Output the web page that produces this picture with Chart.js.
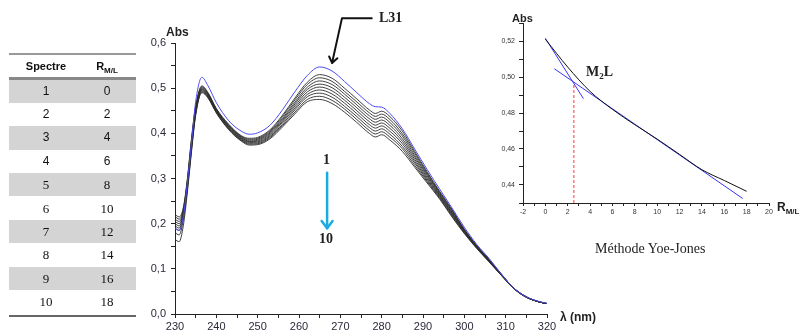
<!DOCTYPE html>
<html>
<head>
<meta charset="utf-8">
<script src="https://cdn.jsdelivr.net/npm/chart.js@4.4.1/dist/chart.umd.min.js"></script>
<style>
    body { margin: 0; background: #fff; }
    #page { position: relative; width: 799px; height: 333px; overflow: hidden; background: #fff;
            font-family: "Liberation Sans", Arial, sans-serif; color: #222; }
    #tableau { position: absolute; left: 0; top: 0; width: 140px; height: 333px; will-change: transform; color: #111; }
    .txt { position: absolute; white-space: nowrap; }
    .serif { font-family: "Liberation Serif", "Times New Roman", serif; }
    .gras { font-weight: bold; }
    #grapheSpectres { position: absolute; left: 130px; top: 0; }
    #grapheYoe { position: absolute; left: 480px; top: 0; }
    .ligne { position: absolute; left: 9px; width: 127px; }
    .rangee { position: absolute; left: 9px; width: 127px; height: 23.4px; line-height: 23.4px; }
    .col1 { position: absolute; left: 0; width: 74px; text-align: center; }
    .col2 { position: absolute; left: 74px; width: 48px; text-align: center; }
    sub { font-size: 8px; vertical-align: -3px; line-height: 0; }
</style>
</head>
<body>
<div id="page">
    <!-- tableau des spectres -->
    <div id="tableau"></div>

    <canvas id="grapheSpectres" width="440" height="333"></canvas>
    <canvas id="grapheYoe" width="319" height="230"></canvas>

    <!-- textes du graphe principal -->
    <div class="txt gras" style="left:166px; top:25px; font-size:12px; line-height:14px;">Abs</div>
    <div class="txt gras" style="left:560px; top:309px; font-size:12px; line-height:16px;">λ (nm)</div>
    <div class="txt serif gras" style="left:379px; top:9px; font-size:14px; line-height:18px;">L31</div>
    <div class="txt serif gras" style="left:323px; top:151px; font-size:14px; line-height:18px;">1</div>
    <div class="txt serif gras" style="left:319px; top:230px; font-size:14px; line-height:18px;">10</div>

    <!-- textes du graphe Yoe-Jones -->
    <div class="txt gras" style="left:512px; top:11px; font-size:11px; line-height:14px;">Abs</div>
    <div class="txt gras" style="left:777px; top:200px; font-size:12px; line-height:15px;">R<sub>M/L</sub></div>
    <div class="txt serif gras" style="left:586px; top:63px; font-size:14px; line-height:18px;">M<sub style="font-size:9px;">2</sub>L</div>
    <div class="txt serif" style="left:595px; top:240px; font-size:14px; line-height:17px;">Méthode Yoe-Jones</div>
</div>

<script>
// ---- tableau ----
const numerosSpectre = [1, 2, 3, 4, 5, 6, 7, 8, 9, 10];
const rapportsML = [0, 2, 4, 6, 8, 10, 12, 14, 16, 18];

// ---- spectres UV (Abs en fonction de lambda) ----
const lambdas = [230, 231, 232, 233, 234, 235, 236.5, 238, 240, 243, 246, 248, 250, 253, 256, 259, 262, 265, 268, 271,
                 274, 277, 278.5, 280, 282, 285, 288, 291, 294, 297, 300, 303, 306, 309, 312, 315, 318, 320];

const spectre1 = [0.19, 0.185, 0.215, 0.29, 0.38, 0.47, 0.524, 0.505, 0.468, 0.428, 0.405, 0.398, 0.401, 0.418, 0.452, 0.492, 0.528, 0.547, 0.538, 0.515,
                  0.49, 0.466, 0.459, 0.458, 0.444, 0.41, 0.365, 0.32, 0.277, 0.235, 0.192, 0.154, 0.123, 0.088, 0.057, 0.038, 0.028, 0.024];
const spectre2 = [0.22, 0.215, 0.235, 0.30, 0.39, 0.46, 0.505, 0.49, 0.455, 0.42, 0.395, 0.389, 0.391, 0.408, 0.44, 0.478, 0.513, 0.53, 0.522, 0.50,
                  0.476, 0.452, 0.444, 0.449, 0.437, 0.405, 0.36, 0.315, 0.272, 0.232, 0.188, 0.152, 0.121, 0.088, 0.057, 0.038, 0.027, 0.023];
const spectre3 = [0.216, 0.21, 0.232, 0.297, 0.386, 0.457, 0.503, 0.4885, 0.454, 0.4185, 0.3935, 0.387, 0.389, 0.4055, 0.437, 0.474, 0.508, 0.523, 0.515, 0.493,
                  0.4695, 0.4455, 0.4375, 0.4425, 0.4305, 0.399, 0.356, 0.312, 0.27, 0.23, 0.187, 0.151, 0.12, 0.0875, 0.057, 0.038, 0.027, 0.023];
const spectre4 = [0.21, 0.205, 0.228, 0.294, 0.382, 0.455, 0.501, 0.487, 0.4525, 0.417, 0.392, 0.385, 0.387, 0.403, 0.433, 0.469, 0.502, 0.516, 0.508, 0.487,
                  0.463, 0.439, 0.431, 0.436, 0.424, 0.394, 0.351, 0.309, 0.268, 0.228, 0.1855, 0.15, 0.1195, 0.087, 0.057, 0.038, 0.027, 0.023];
const spectre5 = [0.205, 0.20, 0.225, 0.291, 0.378, 0.452, 0.499, 0.4855, 0.451, 0.4155, 0.3905, 0.383, 0.385, 0.4005, 0.43, 0.465, 0.497, 0.509, 0.501, 0.48,
                  0.4565, 0.4325, 0.4245, 0.4295, 0.4175, 0.388, 0.347, 0.306, 0.2655, 0.2255, 0.1845, 0.149, 0.119, 0.0865, 0.057, 0.038, 0.027, 0.023];
const spectre6 = [0.20, 0.195, 0.222, 0.288, 0.375, 0.45, 0.4975, 0.484, 0.45, 0.414, 0.389, 0.3815, 0.383, 0.398, 0.427, 0.4605, 0.4915, 0.5025, 0.494, 0.4735,
                  0.45, 0.426, 0.418, 0.423, 0.411, 0.3825, 0.3425, 0.3025, 0.2635, 0.2235, 0.183, 0.1485, 0.118, 0.0865, 0.0565, 0.0375, 0.027, 0.023];
const spectre7 = [0.195, 0.19, 0.218, 0.285, 0.372, 0.447, 0.496, 0.4825, 0.449, 0.4125, 0.3875, 0.38, 0.381, 0.3955, 0.424, 0.456, 0.486, 0.496, 0.487, 0.467,
                  0.4435, 0.4195, 0.4115, 0.4165, 0.4045, 0.377, 0.338, 0.299, 0.2615, 0.2215, 0.182, 0.148, 0.117, 0.086, 0.0565, 0.0375, 0.027, 0.023];
const spectre8 = [0.19, 0.185, 0.215, 0.282, 0.368, 0.445, 0.494, 0.481, 0.4475, 0.411, 0.386, 0.378, 0.379, 0.393, 0.42, 0.452, 0.481, 0.489, 0.48, 0.46,
                  0.437, 0.413, 0.405, 0.41, 0.398, 0.371, 0.334, 0.296, 0.2595, 0.2195, 0.1805, 0.147, 0.1165, 0.0855, 0.056, 0.037, 0.027, 0.023];
const spectre9 = [0.18, 0.175, 0.208, 0.276, 0.364, 0.442, 0.492, 0.4795, 0.446, 0.4095, 0.3845, 0.376, 0.377, 0.3905, 0.417, 0.447, 0.475, 0.482, 0.473, 0.454,
                  0.4305, 0.4065, 0.3985, 0.4035, 0.3915, 0.366, 0.329, 0.293, 0.257, 0.217, 0.1795, 0.146, 0.116, 0.085, 0.056, 0.037, 0.027, 0.023];
const spectre10 = [0.165, 0.16, 0.195, 0.27, 0.36, 0.44, 0.49, 0.478, 0.445, 0.408, 0.383, 0.374, 0.375, 0.388, 0.414, 0.443, 0.47, 0.475, 0.466, 0.447,
                   0.424, 0.40, 0.392, 0.397, 0.385, 0.36, 0.325, 0.29, 0.255, 0.215, 0.178, 0.145, 0.115, 0.085, 0.056, 0.037, 0.027, 0.023];

const spectres = [spectre1, spectre2, spectre3, spectre4, spectre5, spectre6, spectre7, spectre8, spectre9, spectre10];

// ---- méthode Yoe-Jones ----
const rapportsYoe = [0, 2, 4, 6, 8, 10, 12, 14, 16, 18];
const absYoe = [0.521, 0.5055, 0.492, 0.482, 0.4735, 0.4655, 0.457, 0.4485, 0.4425, 0.4365];
const tangente1R = [0, 3.4];
const tangente1Abs = [0.5215, 0.488];
const tangente2R = [0.8, 17.65];
const tangente2Abs = [0.5046, 0.4325];
const intersectionR = [2.55, 2.55];
const intersectionAbs = [0.43, 0.497];

// Remplir le tableau
const tableau = document.getElementById('tableau');
let html = '<div class="ligne" style="top:53px; height:2px; background:#999;"></div>';
html += '<div class="rangee gras" style="top:56px; height:21px; line-height:21px; font-size:11px;">' +
        '<span class="col1">Spectre</span><span class="col2">R<sub>M/L</sub></span></div>';
html += '<div class="ligne" style="top:77px; height:2.5px; background:#888;"></div>';
numerosSpectre.forEach((n, i) => {
    const haut = 79.5 + i * 23.4;
    const fond = i % 2 === 0 ? '#d4d4d4' : 'transparent';
    const police = i < 4 ? 'font-size:12px;' : 'font-size:13px; font-family:\'Liberation Serif\', serif;';
    html += `<div class="rangee" style="top:${haut}px; background:${fond}; ${police}">` +
            `<span class="col1">${n}</span><span class="col2">${rapportsML[i]}</span></div>`;
});
html += '<div class="ligne" style="top:315px; height:2px; background:#666;"></div>';
tableau.innerHTML = html;

function versPoints(xs, ys) {
    return xs.map((x, i) => ({ x: x, y: ys[i] }));
}

function pointe(ctx, de, vers, taille) {
    const a = Math.atan2(vers[1] - de[1], vers[0] - de[0]);
    ctx.beginPath();
    ctx.moveTo(vers[0] - taille * Math.cos(a - 0.65), vers[1] - taille * Math.sin(a - 0.65));
    ctx.lineTo(vers[0], vers[1]);
    ctx.lineTo(vers[0] - taille * Math.cos(a + 0.65), vers[1] - taille * Math.sin(a + 0.65));
    ctx.stroke();
}

// Flèches du graphe principal
const fleches = {
    id: 'fleches',
    afterDraw(chart) {
        const { ctx, scales: { x, y } } = chart;
        ctx.save();
        ctx.lineCap = 'round';
        ctx.lineJoin = 'round';
        // flèche L31
        const p0 = [x.getPixelForValue(277.6), y.getPixelForValue(0.655)];
        const p1 = [x.getPixelForValue(270.4), y.getPixelForValue(0.655)];
        const p2 = [x.getPixelForValue(268.0), y.getPixelForValue(0.556)];
        ctx.strokeStyle = '#111';
        ctx.lineWidth = 2;
        ctx.beginPath();
        ctx.moveTo(p0[0], p0[1]);
        ctx.lineTo(p1[0], p1[1]);
        ctx.lineTo(p2[0], p2[1]);
        ctx.stroke();
        pointe(ctx, p1, p2, 7);
        // flèche 1 -> 10
        const q0 = [x.getPixelForValue(266.8), y.getPixelForValue(0.313)];
        const q1 = [x.getPixelForValue(266.8), y.getPixelForValue(0.19)];
        ctx.strokeStyle = '#1babe3';
        ctx.lineWidth = 2.5;
        ctx.beginPath();
        ctx.moveTo(q0[0], q0[1]);
        ctx.lineTo(q1[0], q1[1]);
        ctx.stroke();
        pointe(ctx, q0, q1, 9);
        ctx.restore();
    }
};

const couleurTexte = '#2a2a3a';

new Chart(document.getElementById('grapheSpectres'), {
    type: 'line',
    data: {
        datasets: spectres.map((valeurs, i) => ({
            data: versPoints(lambdas, valeurs),
            borderColor: i === 0 ? '#4b4bf0' : '#2b2b2b',
            borderWidth: i === 0 ? 1 : 0.9,
            pointRadius: 0,
            fill: false,
            cubicInterpolationMode: 'monotone',
            order: i === 0 ? 0 : 1
        }))
    },
    options: {
        responsive: false,
        animation: false,
        layout: { padding: { top: 43, right: 23, left: 0, bottom: 0 } },
        plugins: { legend: { display: false }, tooltip: { enabled: false } },
        scales: {
            x: {
                type: 'linear', min: 230, max: 320,
                afterFit: s => { s.height = 19; },
                border: { display: true, color: '#222', width: 1 },
                grid: { drawOnChartArea: false, drawTicks: true, tickLength: 4, color: '#222' },
                ticks: {
                    stepSize: 5, autoSkip: false, maxRotation: 0, padding: 2, color: couleurTexte,
                    font: { size: 11, family: 'Liberation Sans' },
                    callback: v => v % 10 === 0 ? String(v) : ''
                }
            },
            y: {
                type: 'linear', min: 0, max: 0.6,
                afterFit: s => { s.width = 45; },
                border: { display: true, color: '#222', width: 1 },
                grid: { drawOnChartArea: false, drawTicks: true, tickLength: 4, color: '#222' },
                ticks: {
                    stepSize: 0.05, autoSkip: false, padding: 5, color: couleurTexte,
                    font: { size: 11, family: 'Liberation Sans' },
                    callback: v => {
                        const r = Math.round(v * 100);
                        return r % 10 === 0 ? (r / 100).toFixed(1).replace('.', ',') : '';
                    }
                }
            }
        }
    },
    plugins: [fleches]
});

// Graphe Yoe-Jones
new Chart(document.getElementById('grapheYoe'), {
    type: 'line',
    data: {
        datasets: [
            { data: versPoints(rapportsYoe, absYoe), borderColor: '#111', borderWidth: 1, pointRadius: 0, cubicInterpolationMode: 'monotone' },
            { data: versPoints(tangente1R, tangente1Abs), borderColor: '#3535f5', borderWidth: 1, pointRadius: 0 },
            { data: versPoints(tangente2R, tangente2Abs), borderColor: '#3535f5', borderWidth: 1, pointRadius: 0 },
            { data: versPoints(intersectionR, intersectionAbs), borderColor: '#ff3b3b', borderWidth: 1, borderDash: [3, 2], pointRadius: 0 }
        ]
    },
    options: {
        responsive: false,
        animation: false,
        layout: { padding: { top: 23, right: 30, left: 0, bottom: 0 } },
        plugins: { legend: { display: false }, tooltip: { enabled: false } },
        scales: {
            x: {
                type: 'linear', min: -2, max: 20,
                afterFit: s => { s.height = 27; },
                border: { display: true, color: '#222', width: 1 },
                grid: { drawOnChartArea: false, drawTicks: true, tickLength: 3, color: '#222' },
                ticks: {
                    stepSize: 1, autoSkip: false, maxRotation: 0, padding: 2, color: '#333',
                    font: { size: 7, family: 'Liberation Sans' },
                    callback: v => v % 2 === 0 ? String(v) : ''
                }
            },
            y: {
                type: 'linear', min: 0.43, max: 0.53,
                afterFit: s => { s.width = 43; },
                border: { display: true, color: '#222', width: 1 },
                grid: { drawOnChartArea: false, drawTicks: true, tickLength: 4, color: '#222' },
                ticks: {
                    stepSize: 0.01, autoSkip: false, padding: 4, color: '#333',
                    font: { size: 7, family: 'Liberation Sans' },
                    callback: v => {
                        const r = Math.round(v * 100);
                        return (r % 2 === 0 && r >= 44 && r <= 52) ? (r / 100).toFixed(2).replace('.', ',') : '';
                    }
                }
            }
        }
    }
});
</script>
</body>
</html>
